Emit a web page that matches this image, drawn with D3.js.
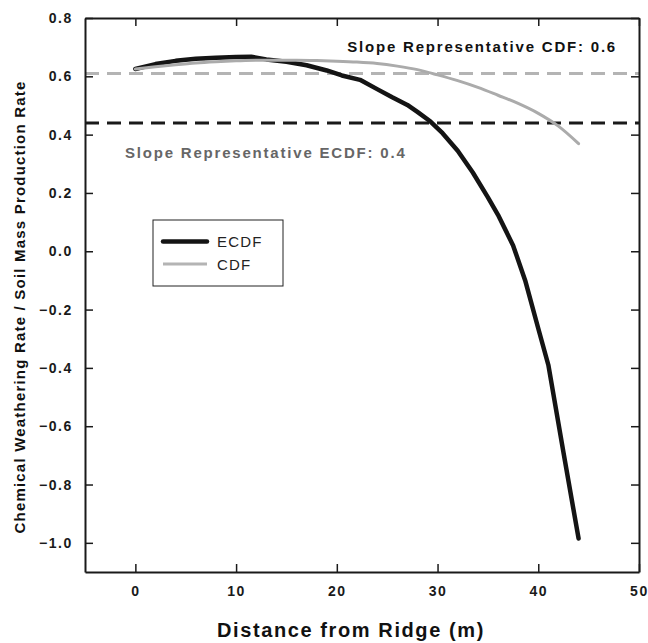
<!DOCTYPE html>
<html lang="en">
<head>
    <meta charset="UTF-8">
    <title>Weathering rate vs distance from ridge</title>
    <script src="https://d3js.org/d3.v7.min.js"></script>
    <style>
        html, body {
            margin: 0;
            background: #fff;
        }

        text {
            font-family: "Liberation Sans", Arial, sans-serif;
        }

        .axis path, .axis line {
            stroke: #1a1a1a;
        }

        .axis text {
            font-size: 14px;
            font-weight: bold;
            fill: #1a1a1a;
            letter-spacing: 1.6px;
        }
    </style>
</head>
<body>
<div class="chart"></div>

<script>
    // values
    var ecdfX = [0, 2, 4, 6, 8, 10, 11.5, 13, 15, 17, 19, 20.5, 22.3, 24, 25.5, 27, 28, 29.3, 30.5, 32, 33.5, 35, 36, 37.5, 38.7, 40, 41, 42.5, 44];
    var ecdfY = [0.625, 0.642, 0.653, 0.66, 0.664, 0.666, 0.667, 0.658, 0.65, 0.638, 0.62, 0.603, 0.588, 0.556, 0.528, 0.502, 0.478, 0.445, 0.405, 0.345, 0.27, 0.185, 0.125, 0.02, -0.1, -0.265, -0.39, -0.69, -0.985];

    var cdfX = [0, 2, 4, 6, 8, 10, 12, 14, 16, 18, 20, 22, 24, 26, 28, 30, 32, 34, 36, 38, 40, 42, 44];
    var cdfY = [0.625, 0.633, 0.64, 0.646, 0.65, 0.653, 0.655, 0.655, 0.655, 0.654, 0.652, 0.649, 0.644, 0.635, 0.623, 0.605, 0.585, 0.562, 0.535, 0.507, 0.473, 0.429, 0.369];

    var slopeCdf = 0.61;
    var slopeEcdf = 0.44;

    var xTicks = [0, 10, 20, 30, 40, 50];
    var yTicks = [-1.0, -0.8, -0.6, -0.4, -0.2, 0.0, 0.2, 0.4, 0.6, 0.8];

    var width = 648, height = 643;
    var margin = {left: 85, right: 9, top: 18, bottom: 71};
    var w = width - margin.left - margin.right;
    var h = height - margin.top - margin.bottom;

    var x = d3.scaleLinear().domain([-5, 50]).range([0, w]);
    var y = d3.scaleLinear().domain([-1.1, 0.8]).range([h, 0]);

    var svg = d3.select('.chart').append('svg')
        .attr('width', width).attr('height', height);

    var g = svg.append('g')
        .attr('transform', 'translate(' + margin.left + ',' + margin.top + ')');

    // reference lines
    g.append('line')
        .attr('x1', 0).attr('x2', w)
        .attr('y1', y(slopeCdf)).attr('y2', y(slopeCdf))
        .attr('stroke', '#b4b4b4').attr('stroke-width', 3)
        .attr('stroke-dasharray', '14,8');
    g.append('line')
        .attr('x1', 0).attr('x2', w)
        .attr('y1', y(slopeEcdf)).attr('y2', y(slopeEcdf))
        .attr('stroke', '#1a1a1a').attr('stroke-width', 3)
        .attr('stroke-dasharray', '14,8');

    var line = d3.line()
        .x(function (d) { return x(d[0]); })
        .y(function (d) { return y(d[1]); });
    var smoothLine = d3.line()
        .x(function (d) { return x(d[0]); })
        .y(function (d) { return y(d[1]); })
        .curve(d3.curveMonotoneX);

    var ecdf = ecdfX.map(function (v, i) { return [v, ecdfY[i]]; });
    var cdf = cdfX.map(function (v, i) { return [v, cdfY[i]]; });

    g.append('path').attr('d', line(ecdf))
        .attr('fill', 'none').attr('stroke', '#141414')
        .attr('stroke-width', 4.5).attr('stroke-linecap', 'round').attr('stroke-linejoin', 'round');
    g.append('path').attr('d', smoothLine(cdf))
        .attr('fill', 'none').attr('stroke', '#ababab')
        .attr('stroke-width', 3).attr('stroke-linecap', 'round').attr('stroke-linejoin', 'round');

    // axes on all four sides, ticks inward
    function styleAxis(s) {
        s.select('.domain').attr('stroke-width', 2);
        s.selectAll('.tick line').attr('stroke-width', 1.5);
    }

    g.append('g').attr('class', 'axis')
        .attr('transform', 'translate(0,' + h + ')')
        .call(d3.axisBottom(x).tickValues(xTicks).tickSize(-8).tickSizeOuter(0).tickPadding(14)
            .tickFormat(d3.format('d')))
        .call(styleAxis);
    g.append('g').attr('class', 'axis')
        .call(d3.axisTop(x).tickValues(xTicks).tickSize(-8).tickSizeOuter(0).tickFormat(''))
        .call(styleAxis);
    g.append('g').attr('class', 'axis')
        .call(d3.axisLeft(y).tickValues(yTicks).tickSize(-8).tickSizeOuter(0).tickPadding(12)
            .tickFormat(d3.format('.1f')))
        .call(styleAxis);
    g.append('g').attr('class', 'axis')
        .attr('transform', 'translate(' + w + ',0)')
        .call(d3.axisRight(y).tickValues(yTicks).tickSize(-8).tickSizeOuter(0).tickFormat(''))
        .call(styleAxis);

    // annotations
    g.append('text')
        .attr('x', w - 22).attr('y', 34)
        .attr('text-anchor', 'end')
        .style('font-size', '15px').style('font-weight', 'bold').style('letter-spacing', '1.8px')
        .attr('fill', '#111')
        .text('Slope Representative CDF: 0.6');
    g.append('text')
        .attr('x', 40).attr('y', 140)
        .style('font-size', '15px').style('font-weight', 'bold').style('letter-spacing', '1.8px')
        .attr('fill', '#666')
        .text('Slope Representative ECDF: 0.4');

    // legend
    var leg = g.append('g').attr('transform', 'translate(68,202)');
    leg.append('rect').attr('width', 130).attr('height', 66)
        .attr('fill', '#fff').attr('stroke', '#222').attr('stroke-width', 1);
    leg.append('line').attr('x1', 10).attr('x2', 54).attr('y1', 21.5).attr('y2', 21.5)
        .attr('stroke', '#141414').attr('stroke-width', 4.5).attr('stroke-linecap', 'round');
    leg.append('line').attr('x1', 10).attr('x2', 54).attr('y1', 44).attr('y2', 44)
        .attr('stroke', '#b4b4b4').attr('stroke-width', 3);
    leg.append('text').attr('x', 64).attr('y', 27)
        .style('font-size', '15px').style('letter-spacing', '1.2px').attr('fill', '#222').text('ECDF');
    leg.append('text').attr('x', 64).attr('y', 49.5)
        .style('font-size', '15px').style('letter-spacing', '1.2px').attr('fill', '#222').text('CDF');

    // axis titles
    svg.append('text')
        .attr('x', 351).attr('y', 637)
        .attr('text-anchor', 'middle')
        .style('font-size', '20px').style('font-weight', 'bold').style('letter-spacing', '1.6px')
        .attr('fill', '#111')
        .text('Distance from Ridge (m)');
    svg.append('text')
        .attr('transform', 'translate(25,' + (margin.top + h / 2 + 12) + ') rotate(-90)')
        .attr('text-anchor', 'middle')
        .style('font-size', '15px').style('font-weight', 'bold').style('letter-spacing', '1.2px')
        .attr('fill', '#111')
        .text('Chemical Weathering Rate / Soil Mass Production Rate');
</script>
</body>
</html>
